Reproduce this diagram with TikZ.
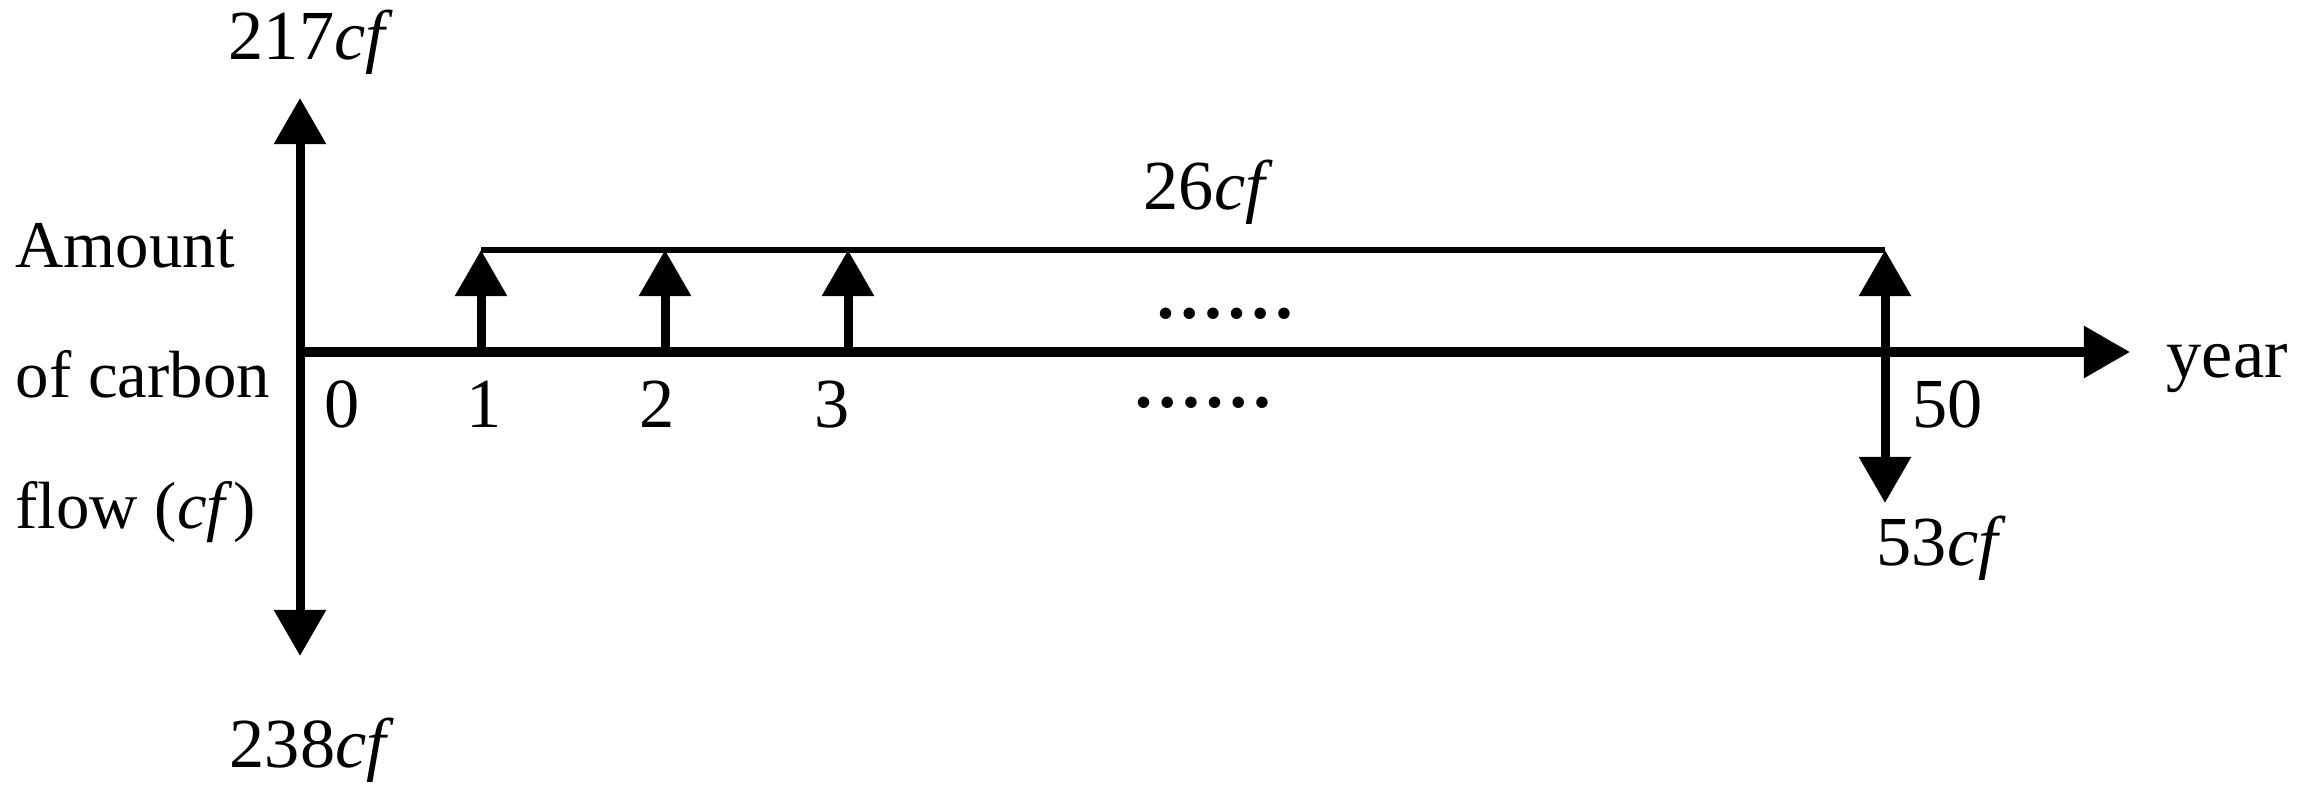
\documentclass[tikz,border=0pt]{standalone}
\usepackage{fontspec}
\setmainfont{Liberation Serif}
\usetikzlibrary{arrows.meta}
\begin{document}
\begin{tikzpicture}[x=0.01cm,y=-0.01cm,
  axis/.style={line width=0.09cm},
  thin line/.style={line width=0.065cm},
  headtip/.style={-{Triangle[length=0.46cm,width=0.5cm]}},
  twotips/.style={{Triangle[length=0.46cm,width=0.5cm]}-{Triangle[length=0.46cm,width=0.5cm]}},
  lbl/.style={inner sep=0pt, font=\fontsize{20pt}{24pt}\selectfont},
  dotrow/.style={inner sep=0pt, anchor=base west, font=\fontsize{20pt}{24pt}\selectfont\bfseries},
  side/.style={inner sep=0pt, anchor=base west, font=\fontsize{19pt}{23pt}\selectfont}]
\useasboundingbox (0,0) rectangle (2302,794);
% coordinates
\coordinate (o) at (300,352);
\coordinate (ytop) at (300,98);
\coordinate (ybot) at (300,656);
\coordinate (xend) at (2130,352);
\coordinate (b1) at (481,352);
\coordinate (t1) at (481,250);
\coordinate (b2) at (665,352);
\coordinate (t2) at (665,250);
\coordinate (b3) at (848,352);
\coordinate (t3) at (848,250);
\coordinate (b50) at (1885,352);
\coordinate (t50) at (1885,250);
\coordinate (d50) at (1885,503);
% axes
\draw[axis,twotips] (ybot) -- (ytop);
\draw[axis,headtip] (o) -- (xend);
% top line
\draw[thin line] (t1) -- (t50);
% arrows
\draw[axis,headtip] (b1) -- (t1);
\draw[axis,headtip] (b2) -- (t2);
\draw[axis,headtip] (b3) -- (t3);
\draw[axis,headtip] (b50) -- (t50);
\draw[axis,headtip] (b50) -- (d50);
% labels
\node[lbl,anchor=base west] (l217) at (228,60) {217\textit{cf}};
\node[lbl,anchor=base west] (l238) at (229,767) {238\textit{cf}};
\node[lbl,anchor=base west] (l26) at (1143,210) {26\textit{cf}};
\node[lbl,anchor=base west] (l53) at (1876,565) {53\textit{cf}};
\node[lbl,anchor=base west] (lyear) at (2166,377) {year};
\node[lbl,anchor=base west] (l50) at (1912,428) {50};
\node[lbl,anchor=base] (l0) at (342,428) {0};
\node[lbl,anchor=base] (l1) at (484,428) {1};
\node[lbl,anchor=base] (l2) at (657,428) {2};
\node[lbl,anchor=base] (l3) at (832,428) {3};
\node[dotrow] (dtop) at (1154,318) {……};
\node[dotrow] (dbot) at (1132,408) {……};
\node[side] (amount) at (15,268) {Amount};
\node[side] (ofcarbon) at (15,397) {of carbon};
\node[side] (flow) at (15,528) {flow (\textit{cf})};
\end{tikzpicture}
\end{document}
